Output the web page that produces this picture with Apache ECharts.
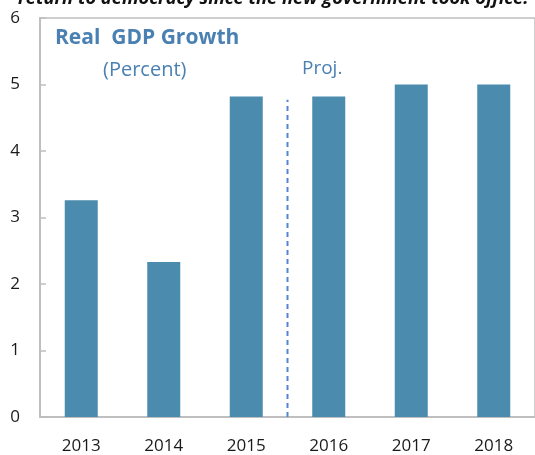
<!DOCTYPE html>
<html>
<head>
<meta charset="utf-8">
<script src="https://cdn.jsdelivr.net/npm/echarts@6/dist/echarts.min.js"></script>
<style>
  html, body { margin: 0; padding: 0; background: #fff; }
  #chart { width: 535px; height: 455px; }
</style>
</head>
<body>
<div id="chart"></div>
<script>
// data
var years = ['2013', '2014', '2015', '2016', '2017', '2018'];
var growth = [3.26, 2.33, 4.82, 4.82, 5.0, 5.0];
var yTicks = [0, 1, 2, 3, 4, 5, 6];
// projection separator: boundary after the 3rd category, line top value
var projBoundary = [3, 3];
var projLine = [0, 4.77];

var blue = '#4b8bad';
var textBlue = '#4a80b2';
var axisGrey = '#bfbfbf';

var chart = echarts.init(document.getElementById('chart'));
chart.setOption({
  animation: false,
  textStyle: { fontFamily: 'Open Sans' },
  grid: {
    left: 40,
    top: 18,
    bottom: 38,
    width: 500,
    show: true,
    borderColor: axisGrey,
    borderWidth: 1.5
  },
  graphic: [
    {
      type: 'text', left: 18, top: -10,
      style: {
        text: 'return to democracy since the new government took office.',
        font: 'italic bold 18.3px "Open Sans"', fill: '#111'
      }
    },
    {
      type: 'text', left: 55, top: 28,
      style: { text: 'Real  GDP Growth', font: 'bold 21px "Open Sans"', fill: textBlue }
    },
    {
      type: 'text', left: 103, top: 60,
      style: { text: '(Percent)', font: '20px "Open Sans"', fill: textBlue }
    },
    {
      type: 'text', left: 302, top: 59,
      style: { text: 'Proj.', font: '19px "Open Sans"', fill: textBlue }
    }
  ],
  xAxis: [
    {
      type: 'category',
      data: years,
      axisLine: { lineStyle: { color: axisGrey, width: 2 } },
      axisTick: { inside: true, length: 6, lineStyle: { color: axisGrey, width: 1.5 } },
      axisLabel: { color: '#1a1a1a', fontSize: 17, margin: 21 }
    },
    {
      type: 'value', min: 0, max: 6, show: false
    }
  ],
  yAxis: {
    type: 'value',
    min: yTicks[0],
    max: yTicks[yTicks.length - 1],
    interval: 1,
    splitLine: { show: false },
    axisLine: { show: true, lineStyle: { color: axisGrey, width: 2 } },
    axisTick: { show: true, inside: true, length: 6, lineStyle: { color: axisGrey, width: 1.5 } },
    axisLabel: { color: '#1a1a1a', fontSize: 17, margin: 20 }
  },
  series: [
    {
      type: 'bar',
      data: growth,
      barWidth: '40%',
      itemStyle: { color: blue }
    },
    {
      type: 'line',
      xAxisIndex: 1,
      data: [[projBoundary[0], projLine[0]], [projBoundary[1], projLine[1]]],
      symbol: 'none',
      lineStyle: { color: '#5585d0', width: 2, type: [5, 4] },
      z: 5
    }
  ]
});
</script>
</body>
</html>
